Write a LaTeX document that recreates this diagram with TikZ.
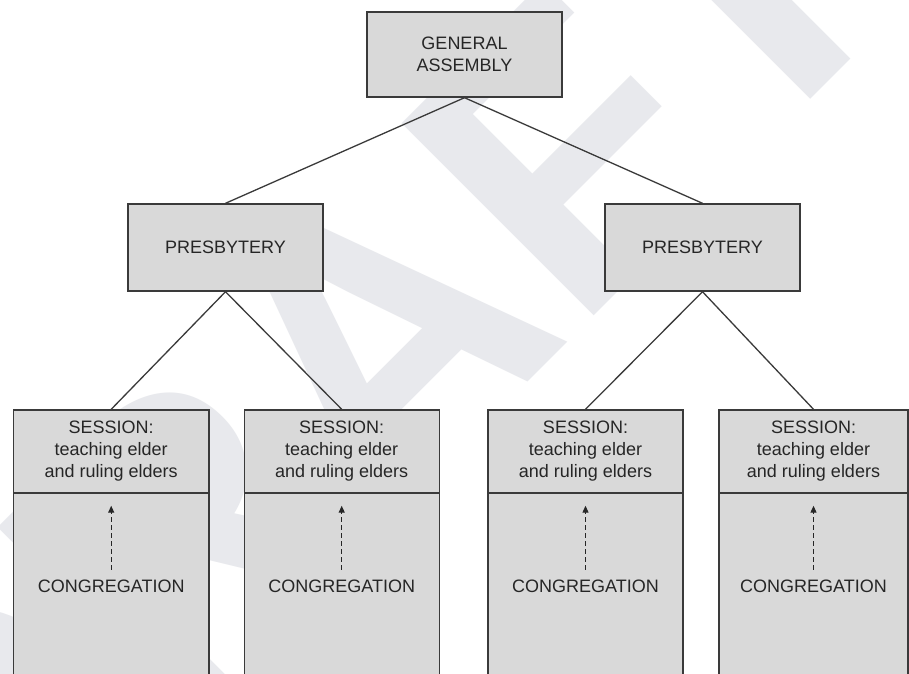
\documentclass[tikz,border=0pt]{standalone}
\usepackage{fontspec}
\setmainfont{Liberation Sans}
\usetikzlibrary{arrows.meta}

\definecolor{boxfill}{HTML}{D9D9D9}
\definecolor{edgegray}{HTML}{3A3A3A}
\definecolor{ink}{HTML}{262626}
\definecolor{markgray}{HTML}{E8E9ED}

\begin{document}
\begin{tikzpicture}[x=1pt, y=-1pt,
  box/.style={draw=edgegray, line width=1.4pt, fill=boxfill, rectangle,
    inner sep=0pt, minimum width=195pt, align=center, text=ink,
    font=\fontsize{18}{22}\selectfont},
  caption/.style={inner sep=0pt, text=ink, font=\fontsize{18}{22}\selectfont},
  link/.style={draw=edgegray, line width=1.3pt},
  upflow/.style={draw=ink, line width=1.2pt, dash pattern=on 5pt off 3pt,
    -{Triangle[width=6pt,length=7pt]}, shorten <=10pt, shorten >=12pt},
  watermark/.style={inner sep=0pt, anchor=base west, rotate=45, text=markgray,
    font=\fontsize{395}{395}\selectfont\bfseries}
]
\useasboundingbox (0,0) rectangle (909,673);
\clip (0,0) rectangle (909,673);
\fill[white] (0,0) rectangle (909,673);

% faint watermark behind the chart
\node[watermark] (draft) at (-30,940) {DRAFT};

% top level
\node[box, minimum height=85pt] (ga) at (464.5,54.5) {GENERAL\\ASSEMBLY};

% presbyteries
\node[box, minimum height=87pt] (p1) at (225.5,247.5) {PRESBYTERY};
\node[box, minimum height=87pt] (p2) at (702.5,247.5) {PRESBYTERY};

% sessions: lower congregation part, then the session header on top
\foreach \i/\cx/\w in {1/111.2/195.5, 2/341.7/195, 3/585.5/195, 4/813.5/189}{
  \node[box, minimum width=\w pt, minimum height=187pt] (b\i) at (\cx,586.5) {};
  \node[box, minimum width=\w pt, minimum height=83pt] (s\i) at (\cx,451.5)
    {SESSION:\\teaching elder\\and ruling elders};
  \node[caption] (c\i) at (\cx,586.5) {CONGREGATION};
  \draw[upflow] (c\i.north) -- (s\i.south);
}

% connectors
\draw[link] (ga.south) -- (p1.north);
\draw[link] (ga.south) -- (p2.north);
\draw[link] (p1.south) -- (s1.north);
\draw[link] (p1.south) -- (s2.north);
\draw[link] (p2.south) -- (s3.north);
\draw[link] (p2.south) -- (s4.north);
\end{tikzpicture}
\end{document}
